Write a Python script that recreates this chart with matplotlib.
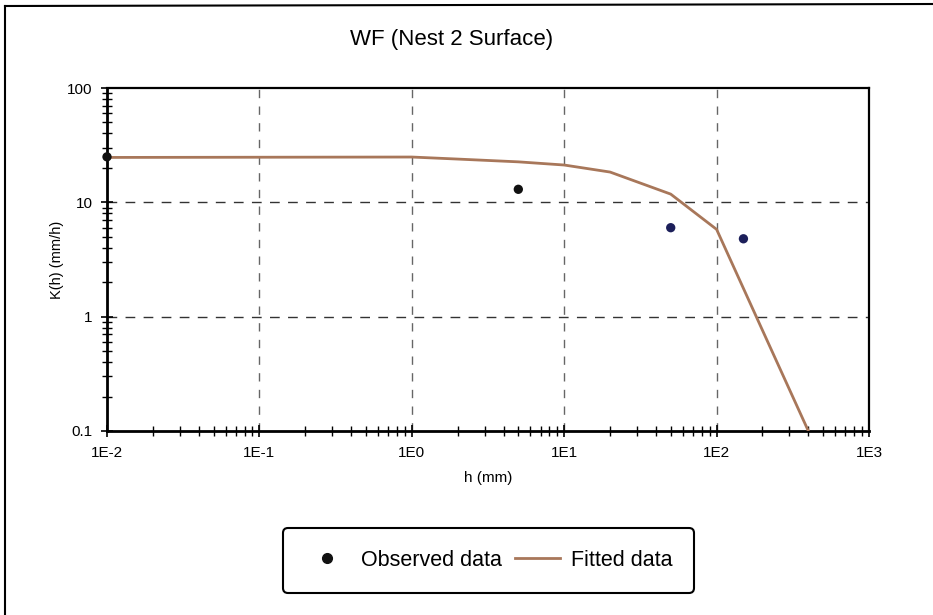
import matplotlib
matplotlib.use("Agg")
import matplotlib.pyplot as plt
from matplotlib.lines import Line2D
from matplotlib.ticker import LogLocator, FixedLocator, FixedFormatter, NullFormatter

plt.rcParams['font.family'] = ['Liberation Sans', 'DejaVu Sans']

# Data
obs_h = [0.01, 5, 50, 150]
obs_k = [25, 13, 6, 4.8]
obs_colors = ['#111111', '#111111', '#1c1f5a', '#1c1f5a']

fit_h = [0.01, 0.1, 1, 2, 5, 10, 20, 50, 100, 200, 400]
fit_k = [24.7, 24.8, 24.9, 23.9, 22.6, 21.2, 18.4, 11.8, 5.8, 0.76, 0.1]

x_ticks = [1e-2, 1e-1, 1e0, 1e1, 1e2, 1e3]
x_labels = ['1E-2', '1E-1', '1E0', '1E1', '1E2', '1E3']
y_ticks = [0.1, 1, 10, 100]
y_labels = ['0.1', '1', '10', '100']

W, H = 933, 615
fig = plt.figure(figsize=(W / 100, H / 100), dpi=100)
ax = fig.add_axes([107 / W, 1 - 431 / H, (869 - 107) / W, (431 - 88) / H])

ax.set_xscale('log')
ax.set_yscale('log')
ax.set_xlim(1e-2, 1e3)
ax.set_ylim(0.1, 100)

# grid
for xv in x_ticks[1:-1]:
    ax.axvline(xv, color='#666666', lw=1.0, ls=(0, (6, 6)), zorder=1)
for yv in y_ticks[1:-1]:
    ax.axhline(yv, color='#333333', lw=1.0, ls=(0, (7, 6)), zorder=1)

ax.plot(fit_h, fit_k, color='#a8775a', lw=2.0, zorder=3, label='Fitted data', clip_on=True)
ax.scatter(obs_h, obs_k, c=obs_colors, s=45, zorder=4, clip_on=False, edgecolors='none')

ax.xaxis.set_major_locator(FixedLocator(x_ticks))
ax.xaxis.set_major_formatter(FixedFormatter(x_labels))
ax.yaxis.set_major_locator(FixedLocator(y_ticks))
ax.yaxis.set_major_formatter(FixedFormatter(y_labels))
ax.xaxis.set_minor_locator(LogLocator(base=10, subs=range(2, 10), numticks=20))
ax.yaxis.set_minor_locator(LogLocator(base=10, subs=range(2, 10), numticks=20))
ax.xaxis.set_minor_formatter(NullFormatter())
ax.yaxis.set_minor_formatter(NullFormatter())

ax.tick_params(axis='both', which='major', direction='inout', length=9, width=1.2,
               labelsize=11, colors='black', pad=6)
ax.tick_params(axis='both', which='minor', direction='inout', length=7, width=1.0)

for s in ['left', 'bottom']:
    ax.spines[s].set_linewidth(2.0)
for s in ['top', 'right']:
    ax.spines[s].set_linewidth(1.6)

ax.set_xlabel('h (mm)', fontsize=11, labelpad=8)
ax.set_ylabel('K(h) (mm/h)', fontsize=10.5, labelpad=2)

fig.text(452 / W, 1 - 39 / H, 'WF (Nest 2 Surface)', fontsize=16,
         ha='center', va='center')

handles = [Line2D([], [], ls='none', marker='o', color='#111111', markersize=7),
           Line2D([], [], color='#a8775a', lw=2.0)]
leg = fig.legend(handles, ['Observed data', 'Fitted data'], loc='center',
                 bbox_to_anchor=(488.5 / W, 1 - 560.5 / H), ncol=2, fontsize=15.5,
                 frameon=True, fancybox=True, edgecolor='black', framealpha=1,
                 handlelength=2.1, handletextpad=0.5, columnspacing=0.6,
                 borderpad=1.0)
leg.get_frame().set_linewidth(1.5)

# outer frame
fig.add_artist(Line2D([5 / W, 5 / W], [0, 1 - 6 / H], transform=fig.transFigure,
                      color='black', lw=1.5))
fig.add_artist(Line2D([5 / W, 1], [1 - 6 / H, 1 - 4 / H], transform=fig.transFigure,
                      color='black', lw=1.5))

fig.savefig('out.png', dpi=100)
